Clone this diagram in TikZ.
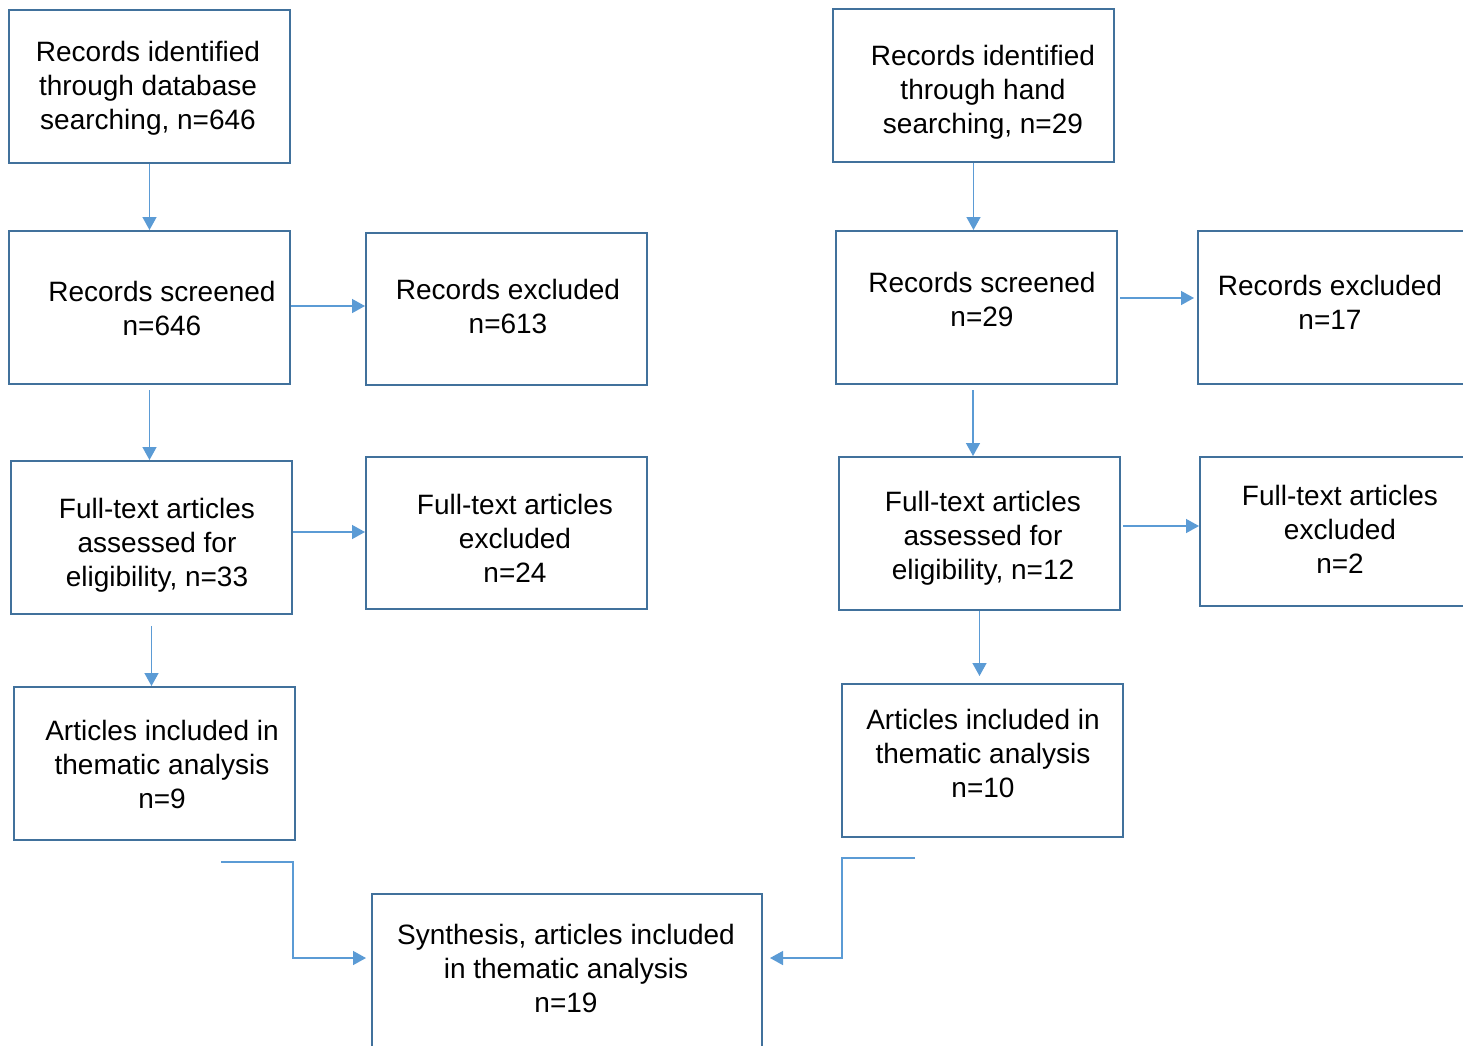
\documentclass[tikz,border=0pt]{standalone}
\usepackage{fontspec}
\setmainfont{Liberation Sans}
\usetikzlibrary{arrows.meta}
\definecolor{boxc}{HTML}{41719C}
\definecolor{arrc}{HTML}{5B9BD5}
\begin{document}
\begin{tikzpicture}[x=1pt,y=-1pt,
  box/.style={draw=boxc,line width=2pt,inner sep=0pt,minimum width=281pt,minimum height=153pt},
  txt/.style={align=center,font=\fontsize{28}{34}\selectfont,inner sep=0pt},
  arr/.style={draw=arrc,line width=1.4pt,-{Triangle[length=13pt,width=14pt]}}]
\clip (0,0) rectangle (1463,1045);
\fill[white] (0,0) rectangle (1463,1045);
% left column boxes
\node[box] (A1) at (149.5,86.5) {};
\node[box] (A2) at (149.5,307.5) {};
\node[box,minimum height=152pt] (A3) at (506.5,309) {};
\node[box] (A4) at (151.5,537.5) {};
\node[box,minimum height=152pt] (A5) at (506.5,533) {};
\node[box] (A6) at (154.5,763.5) {};
\node[box,minimum width=390pt,minimum height=176pt] (S) at (567,982) {};
% right column boxes
\node[box] (B1) at (973.5,85.5) {};
\node[box] (B2) at (976.5,307.5) {};
\node[box,minimum width=282pt] (B3) at (1339,307.5) {};
\node[box] (B4) at (979.5,533.5) {};
\node[box,minimum width=280pt,minimum height=149pt] (B5) at (1340,531.5) {};
\node[box] (B6) at (982.5,760.5) {};
% texts
\node[txt] (tA1) at (148,88) {Records identified\\through database\\searching, n=646};
\node[txt] (tA2) at (162,308) {Records screened\\n=646};
\node[txt] (tA3) at (508,306) {Records excluded\\n=613};
\node[txt] (tA4) at (157,545) {Full-text articles\\assessed for\\eligibility, n=33};
\node[txt] (tA5) at (515,538) {Full-text articles\\excluded\\n=24};
\node[txt] (tA6) at (162,764) {Articles included in\\thematic analysis\\n=9};
\node[txt] (tS) at (566,968) {Synthesis, articles included\\in thematic analysis\\n=19};
\node[txt] (tB1) at (983,92) {Records identified\\through hand\\searching, n=29};
\node[txt] (tB2) at (982,299) {Records screened\\n=29};
\node[txt] (tB3) at (1330,302) {Records excluded\\n=17};
\node[txt] (tB4) at (983,538) {Full-text articles\\assessed for\\eligibility, n=12};
\node[txt] (tB5) at (1340,529) {Full-text articles\\excluded\\n=2};
\node[txt] (tB6) at (983,753) {Articles included in\\thematic analysis\\n=10};
% left connectors
\draw[arr] (A1.south) -- (A2.north);
\draw[arr] ([yshift=1.5pt]A2.east) -- ([yshift=1.5pt]A2.east -| A3.west);
\draw[arr,shorten <=5pt] (A2.south) -- (A2.south |- A4.north);
\draw[arr] ([yshift=5.5pt]A4.east) -- ([yshift=5.5pt]A4.east -| A5.west);
\draw[arr,shorten <=11pt] (A4.south) -- (A4.south |- A6.north);
\coordinate (a6s) at (221,862);
\coordinate (a6b) at (293,958);
\draw[arr,shorten >=5pt] (a6s) -| (a6b) -- (a6b -| S.west);
% right connectors
\draw[arr] (B1.south) -- (B1.south |- B2.north);
\draw[arr,shorten <=2pt,shorten >=3pt] ([yshift=9.5pt]B2.east) -- ([yshift=9.5pt]B2.east -| B3.west);
\draw[arr,shorten <=5pt] ([xshift=-3.5pt]B2.south) -- ([xshift=-3.5pt]B2.south |- B4.north);
\draw[arr,shorten <=2pt] ([yshift=7.5pt]B4.east) -- ([yshift=7.5pt]B4.east -| B5.west);
\draw[arr,shorten >=7pt] (B4.south) -- (B4.south |- B6.north);
\coordinate (b6s) at (915,858);
\coordinate (b6b) at (842,958);
\draw[arr,shorten >=7pt] (b6s) -| (b6b) -- (b6b -| S.east);
\end{tikzpicture}
\end{document}
